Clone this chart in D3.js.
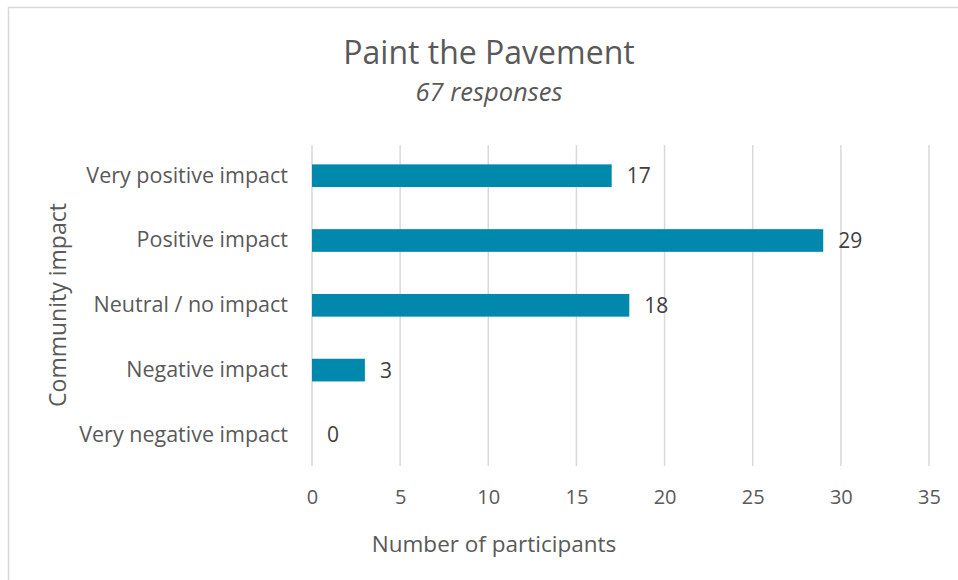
<!DOCTYPE html>
<html><head><meta charset="utf-8">
<script src="https://cdn.jsdelivr.net/npm/d3@7/dist/d3.min.js"></script>
<style>body{margin:0;background:#fff;}svg{display:block;}</style>
</head><body>
<svg id="c" width="958" height="580"></svg>
<script>
const categories = ["Very positive impact","Positive impact","Neutral / no impact","Negative impact","Very negative impact"];
const values = [17,29,18,3,0];
const xTicks = [0,5,10,15,20,25,30,35];
const title = "Paint the Pavement";
const subtitle = "67 responses";
const xTitle = "Number of participants";
const yTitle = "Community impact";

const FONT = "'Open Sans', sans-serif";
const svg = d3.select("#c");
const m = {left:312, right:929, top:145, bottom:466};

svg.append("rect").attr("x",8.5).attr("y",7.5).attr("width",1000).attr("height",1000)
  .attr("fill","none").attr("stroke","#d9d9d9").attr("stroke-width",1.5);

const x = d3.scaleLinear().domain([0,35]).range([m.left,m.right]);
const y = d3.scaleBand().domain(categories).range([143.3,467.3]).paddingInner(0.65).paddingOuter(0.325);

svg.append("g").selectAll("line").data(xTicks).join("line")
  .attr("x1",d=>x(d)).attr("x2",d=>x(d)).attr("y1",m.top).attr("y2",m.bottom)
  .attr("stroke","#d9d9d9").attr("stroke-width",1.5);

svg.append("g").selectAll("rect").data(values).join("rect")
  .attr("x",x(0)).attr("y",(d,i)=>y(categories[i]))
  .attr("width",d=>x(d)-x(0)).attr("height",y.bandwidth())
  .attr("fill","#0088ad");

svg.append("g").selectAll("text").data(values).join("text")
  .attr("x",d=>x(d)+15).attr("y",(d,i)=>y(categories[i])+y.bandwidth()/2)
  .attr("dy","0.36em").attr("font-family",FONT).attr("font-size",21).attr("fill","#404040")
  .text(d=>d);

const xa = svg.append("g").attr("transform",`translate(0,${m.bottom})`)
  .call(d3.axisBottom(x).tickValues(xTicks).tickSize(0).tickPadding(24));
xa.select(".domain").remove();
xa.selectAll("text").attr("font-family",FONT).attr("font-size",20).attr("fill","#595959");

const ya = svg.append("g").attr("transform",`translate(${m.left},0)`)
  .call(d3.axisLeft(y).tickSize(0).tickPadding(24));
ya.select(".domain").remove();
ya.selectAll("text").attr("font-family",FONT).attr("font-size",21.5).attr("fill","#595959");

svg.append("text").attr("x",489).attr("y",63.5).attr("text-anchor","middle")
  .attr("font-family",FONT).attr("font-size",32).attr("fill","#595959").text(title);
svg.append("text").attr("x",489).attr("y",101).attr("text-anchor","middle")
  .attr("font-family",FONT).attr("font-style","italic").attr("font-size",25.5).attr("fill","#595959").text(subtitle);
svg.append("text").attr("x",494).attr("y",552).attr("text-anchor","middle")
  .attr("font-family",FONT).attr("font-size",22.5).attr("fill","#595959").text(xTitle);
svg.append("text").attr("transform","translate(66,305) rotate(-90)").attr("text-anchor","middle")
  .attr("font-family",FONT).attr("font-size",23).attr("fill","#595959").text(yTitle);
</script>
</body></html>
